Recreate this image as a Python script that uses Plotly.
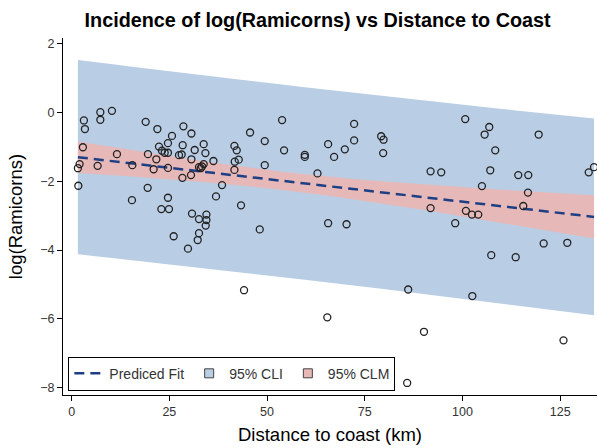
import numpy as np
import plotly.graph_objects as go

# Distance to coast (km) and log(Ramicorns) for each tree plot
distance_km = [
    3.15, 3.41, 7.35, 7.35, 10.32, 18.95, 21.94, 28.60, 30.65, 25.68,
    24.65, 28.42, 31.49, 2.89, 22.35, 23.12, 23.81, 24.65, 11.60, 19.53,
    27.47, 28.16, 21.68, 30.65, 2.05, 1.61, 6.66, 15.54, 20.99, 24.65,
    28.34, 30.54, 32.59, 1.72, 19.46, 15.44, 24.65, 22.96, 24.91, 30.80,
    32.59, 26.11, 32.59, 32.26, 29.77, 53.84, 45.65, 49.41, 54.35, 33.79,
    34.23, 41.65, 42.24, 33.79, 33.36, 33.03, 36.28, 41.73, 42.75, 59.65,
    59.65, 49.41, 41.65, 62.90, 65.62, 38.48, 36.94, 43.34, 34.49, 34.49,
    34.31, 48.13, 65.62, 72.27, 67.15, 69.89, 72.27, 79.19, 79.80, 79.70,
    91.83, 94.55, 91.83, 98.13, 70.33, 100.69, 106.84, 105.66, 119.48, 108.37,
    107.09, 114.26, 116.82, 104.97, 116.74, 115.54, 100.87, 102.41, 104.02, 132.28,
    133.64, 120.76, 126.80, 107.35, 113.60, 44.11, 86.10, 102.51, 65.41, 90.14,
    125.83, 85.84,
]
log_ramicorns = [
    -0.23, -0.48, 0.01, -0.21, 0.05, -0.27, -0.48, -0.40, -0.61, -0.68,
    -0.89, -0.95, -1.09, -1.01, -0.99, -1.11, -1.17, -1.17, -1.21, -1.21,
    -1.24, -1.22, -1.36, -1.36, -1.50, -1.62, -1.55, -1.53, -1.65, -1.61,
    -1.90, -1.82, -1.59, -2.13, -2.19, -2.55, -2.48, -2.81, -2.81, -2.94,
    -3.10, -3.60, -3.51, -3.71, -3.96, -0.22, -0.58, -0.83, -1.10, -0.92,
    -1.18, -0.97, -1.10, -1.50, -1.57, -1.62, -1.41, -1.43, -1.37, -1.23,
    -1.29, -1.53, -1.67, -1.77, -0.92, -2.11, -2.44, -2.70, -2.97, -3.13,
    -3.29, -3.40, -3.22, -0.33, -1.29, -1.07, -0.81, -0.69, -0.79, -1.18,
    -1.71, -1.74, -2.78, -3.22, -3.25, -0.19, -0.42, -0.64, -0.64, -1.10,
    -1.68, -1.82, -1.82, -2.14, -2.33, -2.72, -2.86, -2.97, -2.97, -1.74,
    -1.59, -3.81, -3.79, -4.15, -4.21, -5.17, -5.15, -5.34, -5.96, -6.38,
    -6.63, -7.87,
]
T_975 = 1.982  # two-sided 95% t quantile, df = n - 2

x = np.array(distance_km)
y = np.array(log_ramicorns)
n = len(x)

# Ordinary least squares fit with mean (CLM) and prediction (CLI) limits
xbar = x.mean()
sxx = np.sum((x - xbar) ** 2)
slope = np.sum((x - xbar) * (y - y.mean())) / sxx
intercept = y.mean() - slope * xbar
resid = y - (intercept + slope * x)
s = np.sqrt(np.sum(resid ** 2) / (n - 2))

xs = np.unique(x)
fit = intercept + slope * xs
lev = 1.0 / n + (xs - xbar) ** 2 / sxx
clm = T_975 * s * np.sqrt(lev)
cli = T_975 * s * np.sqrt(1.0 + lev)

CLI_COLOR = "#b9cde5"
CLM_COLOR = "#e6b9b8"
FIT_COLOR = "#1f3f85"
FONT = "Arial, Liberation Sans, sans-serif"

fig = go.Figure()

# Confidence bands (drawn as closed polygons; legend keys added separately)
fig.add_trace(go.Scatter(
    x=np.concatenate([xs, xs[::-1]]),
    y=np.concatenate([fit + cli, (fit - cli)[::-1]]),
    fill="toself", fillcolor=CLI_COLOR, mode="lines",
    line=dict(width=0, color=CLI_COLOR), showlegend=False, hoverinfo="skip",
))
fig.add_trace(go.Scatter(
    x=np.concatenate([xs, xs[::-1]]),
    y=np.concatenate([fit + clm, (fit - clm)[::-1]]),
    fill="toself", fillcolor=CLM_COLOR, mode="lines",
    line=dict(width=0, color=CLM_COLOR), showlegend=False, hoverinfo="skip",
))
fig.add_trace(go.Scatter(
    x=xs, y=fit, mode="lines", name="Prediced Fit",
    line=dict(color=FIT_COLOR, width=2.5, dash="10px,6px"),
    legendrank=1,
))
fig.add_trace(go.Scatter(
    x=x, y=y, mode="markers", showlegend=False,
    marker=dict(symbol="circle-open", size=7, color="#222222",
                line=dict(width=1.3, color="#222222")),
))

# Small square legend keys for the two bands
for label, color, rank in [("95% CLI", CLI_COLOR, 2), ("95% CLM", CLM_COLOR, 3)]:
    fig.add_trace(go.Scatter(
        x=[None], y=[None], mode="markers", name=label, legendrank=rank,
        marker=dict(symbol="square", size=9, color=color,
                    line=dict(width=1, color="#444444")),
    ))

axis_common = dict(
    showline=True, linecolor="black", linewidth=1,
    ticks="outside", ticklen=5, tickcolor="black",
    showgrid=False, zeroline=False, mirror=False,
    tickfont=dict(family=FONT, size=12.5, color="#333333"),
    title_font=dict(family=FONT, size=18.5, color="black"),
)

fig.update_layout(
    width=597, height=448,
    margin=dict(l=63, r=0, t=38, b=53),
    plot_bgcolor="white", paper_bgcolor="white",
    title=dict(text="<b>Incidence of log(Ramicorns) vs Distance to Coast</b>",
               x=0.532, xanchor="center", y=0.955, yanchor="middle",
               font=dict(family=FONT, size=19.8, color="black")),
    xaxis=dict(range=[-2.2, 134.4], tickvals=[0, 25, 50, 75, 100, 125],
               title=dict(text="Distance to coast (km)", standoff=10),
               **axis_common),
    yaxis=dict(range=[-8.22, 2.17], tickvals=[-8, -6, -4, -2, 0, 2],
               title=dict(text="log(Ramicorns)", standoff=12),
               **axis_common),
    legend=dict(orientation="h", x=0.01, y=0.012, xanchor="left", yanchor="bottom",
                bordercolor="black", borderwidth=1, bgcolor="white",
                font=dict(family=FONT, size=14, color="#333333"),
                itemwidth=30, tracegroupgap=0),
    showlegend=True,
)

fig.write_html("out.html")
